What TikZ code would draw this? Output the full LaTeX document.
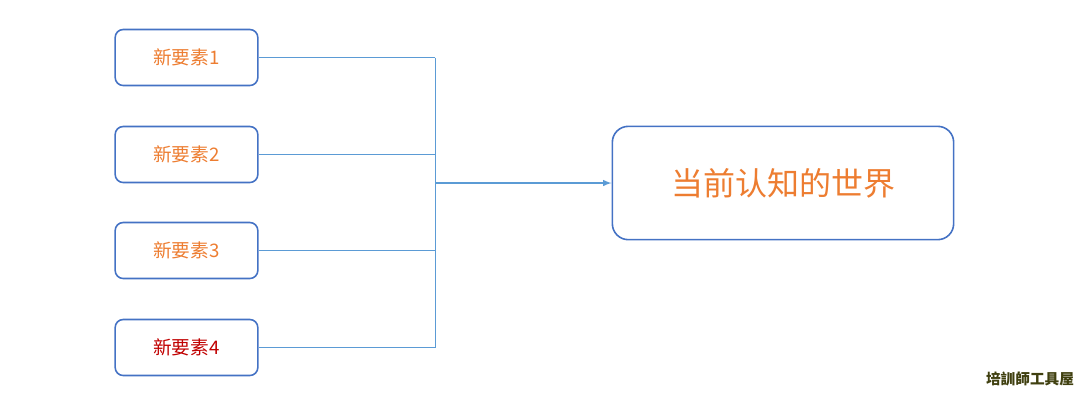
\documentclass[tikz,border=0pt]{standalone}
\usepackage{fontspec}
\setmainfont{Noto Sans CJK SC}
\newfontfamily\tcfont{Noto Sans CJK TC}
\usetikzlibrary{positioning}
\definecolor{boxblue}{RGB}{68,114,196}
\definecolor{lineblue}{RGB}{91,155,213}
\definecolor{textorange}{RGB}{237,125,49}
\definecolor{textred}{RGB}{192,0,0}
\definecolor{markolive}{RGB}{64,64,16}
\begin{document}
\begin{tikzpicture}[x=0.75pt,y=-0.75pt]
\tikzset{
% element boxes on the left and the result box
elem box/.style={draw=boxblue,line width=1.2pt,rounded corners=6pt,minimum width=107pt,minimum height=42pt,inner sep=0pt,text=textorange,font=\fontsize{14}{16}\selectfont},
world box/.style={draw=boxblue,line width=1.2pt,rounded corners=12pt,minimum width=256pt,minimum height=85pt,inner sep=0pt,text=textorange,font=\fontsize{24}{28}\selectfont},
feed/.style={draw=lineblue,line width=0.6pt}
}
\useasboundingbox (0,0) rectangle (1090,401);

% the four elements
\node[elem box] (e1) at (186.5,57.5) {新要素1};
\node[elem box] (e2) at (186.5,154.5) {新要素2};
\node[elem box] (e3) at (186.5,250.5) {新要素3};
\node[elem box,text=textred] (e4) at (186.5,347.5) {新要素4};
\node[world box] (w) at (783,183) {当前认知的世界};

% bracket joining the elements
\coordinate (j) at (435,183);
\foreach \i in {1,...,4}
  \draw[feed] (e\i.east) -- (e\i.east -| j);
\draw[feed] (e1.east -| j) -- (e4.east -| j);
\draw[feed,line width=1.2pt,-latex] (j) -- (w.west);

\node[font=\tcfont\bfseries\fontsize{11}{13}\selectfont,text=markolive] (mark) at (1030,379) {培訓師工具屋};
\end{tikzpicture}
\end{document}
